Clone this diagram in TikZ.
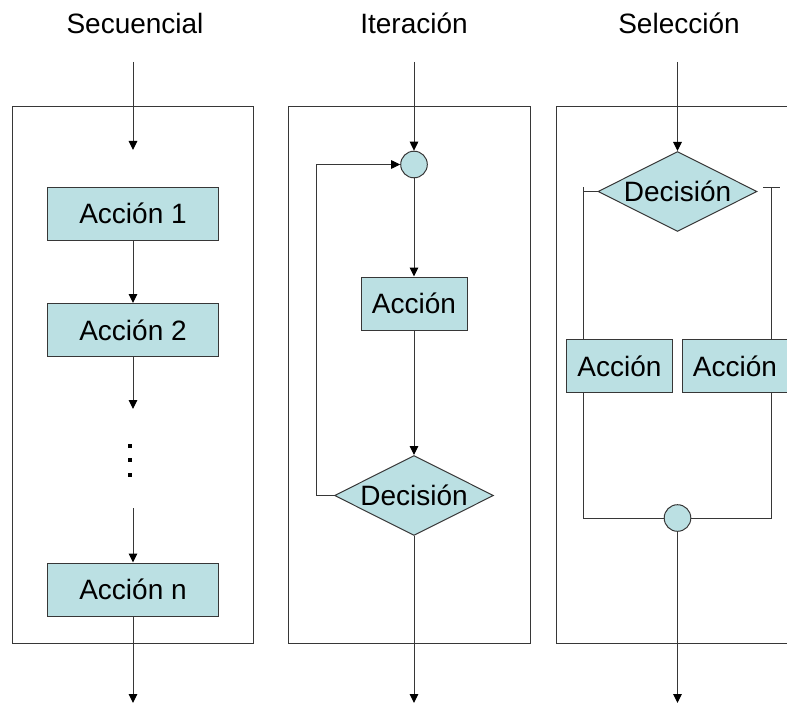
\documentclass[tikz,border=0pt]{standalone}
\usepackage{fontspec}
\setmainfont{Liberation Sans}
\usetikzlibrary{shapes,arrows.meta}
\definecolor{accionazul}{RGB}{187,224,227}
\definecolor{lineagris}{RGB}{55,55,55}

\tikzset{
	texto/.style={font=\fontsize{28bp}{33bp}\selectfont},
	titulo/.style={texto},
	accion/.style={texto, draw=lineagris, fill=accionazul, line width=1bp, inner sep=0pt,
		minimum width=170bp, minimum height=53bp},
	decision/.style={texto, diamond, aspect=2, draw=lineagris, fill=accionazul, line width=1bp,
		inner sep=0pt, minimum width=159bp, minimum height=80bp},
	union/.style={circle, draw=lineagris, fill=accionazul, line width=1bp, inner sep=0pt,
		minimum size=26.6bp},
	linea/.style={draw=lineagris, line width=1bp},
	flecha/.style={linea, -{Triangle[length=9bp,width=8.5bp,color=black]}}
}

\begin{document}
\begin{tikzpicture}[x=1bp,y=-1bp]
	\useasboundingbox (0,0) rectangle (787,704);

	% titulos
	\node[titulo] (tsec) at (135,23) {Secuencial};
	\node[titulo] (tite) at (414,23) {Iteración};
	\node[titulo] (tsel) at (679,23) {Selección};

	% marcos
	\draw[linea] (12,106.5) rectangle (253,643);
	\draw[linea] (288,106.5) rectangle (530,643);
	\draw[linea] (556,106.5) rectangle (797,643);

	%% secuencial
	\coordinate (s0) at (133,62);
	\coordinate (s0f) at (133,150);
	\node[accion] (a1) at (133,213.5) {Acción 1};
	\node[accion] (a2) at (133,330) {Acción 2};
	\coordinate (s2f) at (133,409);
	\foreach \y in {446,460,475}
		\fill[black] (128,{\y-2}) rectangle +(4,4);
	\coordinate (s3) at (133,508);
	\node[accion] (an) at (133,589.5) {Acción n};
	\coordinate (s4) at (133,703);

	\draw[flecha] (s0) -- (s0f);
	\draw[flecha] (a1) -- (a2);
	\draw[flecha] (a2) -- (s2f);
	\draw[flecha] (s3) -- (an);
	\draw[flecha] (an) -- (s4);

	%% iteracion
	\coordinate (i0) at (414,62);
	\node[union] (c1) at (414,164.5) {};
	\node[accion, minimum width=106bp] (ai) at (414,303.5) {Acción};
	\node[decision] (di) at (414,495.5) {Decisión};
	\coordinate (i4) at (414,703);
	\coordinate (lazo) at (316,164.5);

	\draw[flecha] (i0) -- (c1);
	\draw[flecha] (c1) -- (ai);
	\draw[flecha] (ai) -- (di);
	\draw[flecha] (di) -- (i4);
	\draw[flecha] (di.west) -- (di.west -| lazo) -- (lazo) -- (c1);

	%% seleccion
	\coordinate (e0) at (677.5,62);
	\node[decision] (ds) at (677.5,191.5) {Decisión};
	\node[accion, minimum width=106bp] (sa1) at (619.5,366) {Acción};
	\node[accion, minimum width=106bp] (sa2) at (735,366) {Acción};
	\node[union] (c2) at (677.5,518) {};
	\coordinate (e4) at (677.5,703);
	\coordinate (ramai) at (583,187);
	\coordinate (ramad) at (771,187);

	\draw[flecha] (e0) -- (ds);
	\draw[linea] (ds.west) -- (ds.west -| ramai);
	\draw[linea] (ramai) -- (ramai |- sa1.north);
	\draw[linea] ([xshift=-8bp]ramad) -- ([xshift=9bp]ramad);
	\draw[linea] (ramad) -- (ramad |- sa2.north);
	\draw[linea] (ramai |- sa1.south) -- (ramai |- c2) -- (c2);
	\draw[linea] (ramad |- sa2.south) -- (ramad |- c2) -- (c2);
	\draw[flecha] (c2) -- (e4);
\end{tikzpicture}
\end{document}
